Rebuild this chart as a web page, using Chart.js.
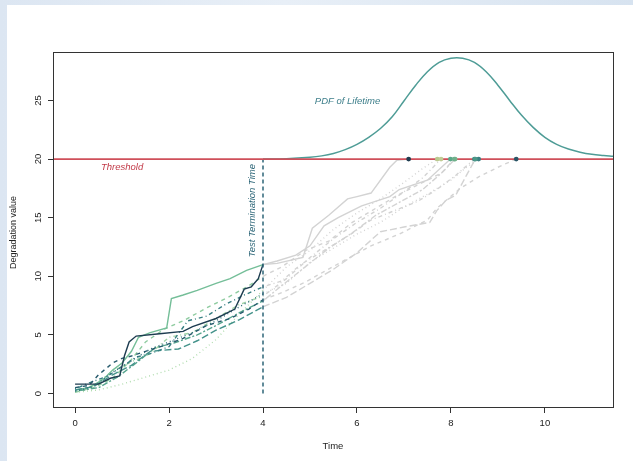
<!DOCTYPE html>
<html>
<head>
<meta charset="utf-8">
<script src="https://cdn.jsdelivr.net/npm/chart.js@4.4.1/dist/chart.umd.min.js"></script>
<style>
  html, body { margin: 0; padding: 0; }
  body {
    width: 633px; height: 461px; overflow: hidden; position: relative;
    background: linear-gradient(90deg, #dce6f2, #e8eff7 45%, #d7e3f0);
  }
  #wrap { position: absolute; left: 7px; top: 5px; width: 626px; height: 456px; background: #fff; }
</style>
</head>
<body>
<div id="wrap"><canvas id="chart" width="626" height="456"></canvas></div>
<script>
// Degradation paths as [time, value].
// Part up to testEnd is observed (coloured), the rest is the extrapolation (grey).
const path1 = [[0,0.8],[0.5,0.8],[0.75,1.3],[0.95,1.5],[1.05,3.2],[1.15,4.4],[1.3,4.9],[1.8,5.1],[2.3,5.3],[2.5,5.7],[3.0,6.4],[3.4,7.2],[3.6,8.9],[3.75,9.1],[3.9,9.8],[4.0,11.0],
  [4.3,11.1],[4.85,11.6],[5.05,14.1],[5.4,15.2],[5.8,16.6],[6.0,16.8],[6.3,17.1],[6.7,19.3],[6.85,19.9],[7.1,20]];
const path2 = [[0,0.5],[0.3,0.7],[0.5,1.6],[0.8,2.6],[1.0,3.0],[1.2,3.2],[1.5,3.6],[1.9,4.1],[2.3,4.7],[2.8,5.8],[3.3,6.4],[3.7,7.2],[4.0,8.0],
  [4.4,8.6],[4.9,9.5],[5.3,10.4],[5.8,11.5],[6.3,12.6],[6.9,13.6],[7.5,14.8],[7.7,15.8],[8.2,17.5],[8.6,18.5],[9.0,19.3],[9.39,20]];
const path3 = [[0,0.2],[0.4,0.6],[0.8,1.8],[1.2,2.8],[1.6,3.8],[2.0,4.4],[2.5,5.2],[3.0,6.2],[3.5,7.4],[4.0,8.5],
  [4.5,9.4],[5.0,11.2],[5.5,12.4],[6.0,13.6],[6.5,14.6],[7.0,15.9],[7.5,17.0],[8.0,18.2],[8.3,19.2],[8.59,20]];
const path4 = [[0,0.4],[0.3,0.9],[0.7,1.5],[1.0,2.3],[1.3,3.1],[1.6,3.4],[2.0,4.0],[2.4,6.2],[2.8,6.6],[3.2,7.6],[3.6,8.4],[4.0,9.1],
  [4.4,9.6],[4.8,11.0],[5.3,12.2],[5.8,13.4],[6.3,14.8],[6.8,15.6],[7.3,16.4],[7.7,17.4],[8.1,18.6],[8.5,20]];
const path5 = [[0,0.3],[0.4,0.6],[0.8,1.6],[1.2,2.4],[1.6,3.6],[2.2,3.8],[2.6,4.5],[3.0,5.4],[3.5,6.3],[4.0,7.4],
  [4.5,8.2],[5.0,9.4],[5.5,10.6],[6.0,12.0],[6.5,13.8],[7.0,14.2],[7.55,14.6],[7.7,15.6],[7.9,16.5],[8.1,16.9],[8.33,18.6],[8.52,20]];
const path6 = [[0,0.2],[0.5,0.5],[0.9,1.4],[1.3,2.6],[1.7,3.9],[2.1,4.3],[2.6,5.0],[3.0,5.8],[3.5,6.9],[4.0,7.9],
  [4.4,9.2],[4.9,10.8],[5.4,12.4],[5.9,13.7],[6.4,15.2],[6.9,16.3],[7.4,17.4],[7.8,18.8],[8.09,20]];
const path7 = [[0,0.3],[0.3,0.5],[0.6,1.2],[0.8,2.0],[1.0,2.6],[1.2,3.6],[1.35,4.8],[1.6,5.2],[1.95,5.6],[2.05,8.1],[2.3,8.4],[2.6,8.8],[3.0,9.4],[3.3,9.8],[3.65,10.5],[4.0,11.0],
  [4.3,11.3],[4.7,11.8],[5.0,12.6],[5.3,14.3],[5.6,15.0],[6.1,16.0],[6.7,16.8],[6.9,17.4],[7.5,18.2],[7.99,20]];
const path8 = [[0,0.1],[0.4,0.5],[0.8,1.3],[1.2,2.9],[1.5,4.4],[1.9,5.5],[2.3,6.2],[2.8,7.3],[3.3,8.3],[3.7,9.2],[4.0,10.0],
  [4.4,10.8],[4.9,12.2],[5.4,13.0],[5.9,14.6],[6.4,15.8],[6.9,17.0],[7.4,18.0],[7.8,18.8],[8.07,20]];
const path9 = [[0,0.1],[0.5,0.3],[1.0,0.8],[1.5,1.4],[2.0,2.0],[2.5,3.0],[3.0,4.6],[3.5,6.8],[4.0,8.8],
  [4.5,10.8],[5.0,12.2],[5.5,14.0],[6.0,15.4],[6.5,16.6],[7.0,18.0],[7.4,19.2],[7.71,20]];
const path10 = [[0,0.2],[0.4,0.7],[0.8,1.9],[1.2,2.7],[1.6,3.4],[2.0,4.8],[2.5,5.2],[3.0,6.4],[3.5,7.6],[4.0,8.3],
  [4.5,9.8],[5.0,11.6],[5.5,13.2],[6.0,14.6],[6.5,15.8],[7.0,17.2],[7.4,18.4],[7.79,20]];

// failure times (dots on the threshold)
const failTimes = [7.10, 9.39, 8.59, 8.50, 8.52, 8.09, 7.99, 8.07, 7.71, 7.79];

// PDF of lifetime, drawn on top of the threshold
const pdfTime  = [4.0, 4.5, 5.0, 5.25, 5.5, 5.75, 6.0, 6.25, 6.5, 6.75, 7.0, 7.25, 7.5, 7.75, 8.0, 8.25, 8.5, 8.75, 9.0, 9.25, 9.5, 9.75, 10.0, 10.25, 10.5, 10.75, 11.0, 11.25, 11.45];
const pdfValue = [20.0, 20.03, 20.15, 20.27, 20.48, 20.8, 21.25, 21.85, 22.6, 23.6, 24.95, 26.3, 27.45, 28.25, 28.6, 28.6, 28.25, 27.45, 26.3, 25.0, 23.75, 22.7, 21.85, 21.25, 20.85, 20.58, 20.4, 20.3, 20.24];

const threshold = 20;
const testEnd = 4;

const xRange = [-0.47, 11.45];
const yRange = [-1.15, 29.13];
const xTicks = [0, 2, 4, 6, 8, 10];
const yTicks = [0, 5, 10, 15, 20, 25];

const xTitle = "Time";
const yTitle = "Degradation value";
const notes = [
  { text: "PDF of Lifetime", x: 5.8, y: 24.95, color: "#3e7f8b", rot: 0 },
  { text: "Threshold", x: 1.0, y: 19.3, color: "#c23a48", rot: 0 },
  { text: "Test Termination Time", x: 3.78, y: 15.6, color: "#2d6678", rot: -Math.PI / 2 },
];

// styles
const paths = [path1, path2, path3, path4, path5, path6, path7, path8, path9, path10];
const pathColors = ["#1d3c50", "#265a6c", "#2e6f7a", "#377f83", "#43928a", "#56a58e", "#74be98", "#8dcb9f", "#b2ddb0", "#a0d3a6"];
const dotColors  = ["#1f3d50", "#2a5566", "#3b7f82", "#3f8b84", "#4c9888", "#7db78e", "#5aa889", "#6fb08c", "#b9c98f", "#c0cd95"];
const dashes = [[], [4, 4], [1, 3], [1, 3, 4, 3], [7, 3], [2, 2, 6, 2], [], [4, 4], [1, 3], [1, 3, 4, 3]];
const greyColor = "#d3d3d3";
const FONT = "'Liberation Sans', Arial, Helvetica, sans-serif";

const toPts = arr => arr.map(p => ({ x: p[0], y: p[1] }));
const datasets = [];

paths.forEach((p, i) => {
  const before = p.filter(q => q[0] <= testEnd);
  const after = p.filter(q => q[0] >= testEnd);
  datasets.push({
    data: toPts(after), borderColor: greyColor, borderWidth: 1.4, borderDash: dashes[i],
    showLine: true, pointRadius: 0, tension: 0, order: 6,
  });
  datasets.push({
    data: toPts(before), borderColor: pathColors[i], borderWidth: 1.4, borderDash: dashes[i],
    showLine: true, pointRadius: 0, tension: 0, order: 5,
  });
});

// vertical test termination line
datasets.push({
  data: [{ x: testEnd, y: 0 }, { x: testEnd, y: threshold }],
  borderColor: "#2e6678", borderWidth: 1.5, borderDash: [4, 3],
  showLine: true, pointRadius: 0, order: 4,
});
// threshold
datasets.push({
  data: [{ x: xRange[0], y: threshold }, { x: xRange[1], y: threshold }],
  borderColor: "#cf4f5a", borderWidth: 1.8, showLine: true, pointRadius: 0, order: 2,
});
// pdf
datasets.push({
  data: pdfTime.map((t, i) => ({ x: t, y: pdfValue[i] })),
  borderColor: "#4e9c96", borderWidth: 1.5, showLine: true, pointRadius: 0,
  tension: 0.4, order: 3,
});
// failure dots
datasets.push({
  data: failTimes.map(t => ({ x: t, y: threshold })),
  pointRadius: 2.4, pointBorderWidth: 0, pointBackgroundColor: dotColors,
  showLine: false, order: 1,
});

const decor = {
  id: "decor",
  afterDraw(chart) {
    const { ctx, chartArea: a, scales } = chart;
    ctx.save();
    ctx.strokeStyle = "#333";
    ctx.lineWidth = 1;
    ctx.strokeRect(a.left + 0.5, a.top + 0.5, a.right - a.left, a.bottom - a.top);

    ctx.fillStyle = "#222";
    ctx.font = "9.5px " + FONT;
    ctx.textAlign = "center";
    ctx.textBaseline = "middle";
    // y tick labels, rotated like R's default
    scales.y.ticks.forEach(t => {
      const y = scales.y.getPixelForValue(t.value);
      ctx.save();
      ctx.translate(a.left - 15, y);
      ctx.rotate(-Math.PI / 2);
      ctx.fillText(String(t.value), 0, 0);
      ctx.restore();
    });
    // axis titles
    ctx.fillText(xTitle, (a.left + a.right) / 2, 441);
    ctx.save();
    ctx.translate(6.5, (a.top + a.bottom) / 2 + 3);
    ctx.rotate(-Math.PI / 2);
    ctx.font = "9px " + FONT;
    ctx.fillText(yTitle, 0, 0);
    ctx.restore();

    // annotations
    notes.forEach(n => {
      ctx.save();
      ctx.fillStyle = n.color;
      ctx.font = "italic 9.5px " + FONT;
      ctx.translate(scales.x.getPixelForValue(n.x), scales.y.getPixelForValue(n.y));
      ctx.rotate(n.rot);
      ctx.fillText(n.text, 0, 0);
      ctx.restore();
    });
    ctx.restore();
  },
};

new Chart(document.getElementById("chart"), {
  type: "scatter",
  data: { datasets },
  options: {
    responsive: false,
    animation: false,
    layout: { padding: { left: 0, right: 20, top: 47, bottom: 0 } },
    plugins: { legend: { display: false }, tooltip: { enabled: false } },
    scales: {
      x: {
        type: "linear", min: xRange[0], max: xRange[1],
        afterBuildTicks: s => { s.ticks = xTicks.map(v => ({ value: v })); },
        afterFit: s => { s.height = 54; },
        grid: { drawOnChartArea: false, drawTicks: true, tickLength: 6, color: "#333" },
        border: { display: false },
        ticks: { color: "#222", padding: 5, maxRotation: 0, font: { size: 9.5, family: FONT } },
      },
      y: {
        type: "linear", min: yRange[0], max: yRange[1],
        afterBuildTicks: s => { s.ticks = yTicks.map(v => ({ value: v })); },
        afterFit: s => { s.width = 46; },
        grid: { drawOnChartArea: false, drawTicks: true, tickLength: 5, color: "#333" },
        border: { display: false },
        ticks: { display: false },
      },
    },
  },
  plugins: [decor],
});
</script>
</body>
</html>
